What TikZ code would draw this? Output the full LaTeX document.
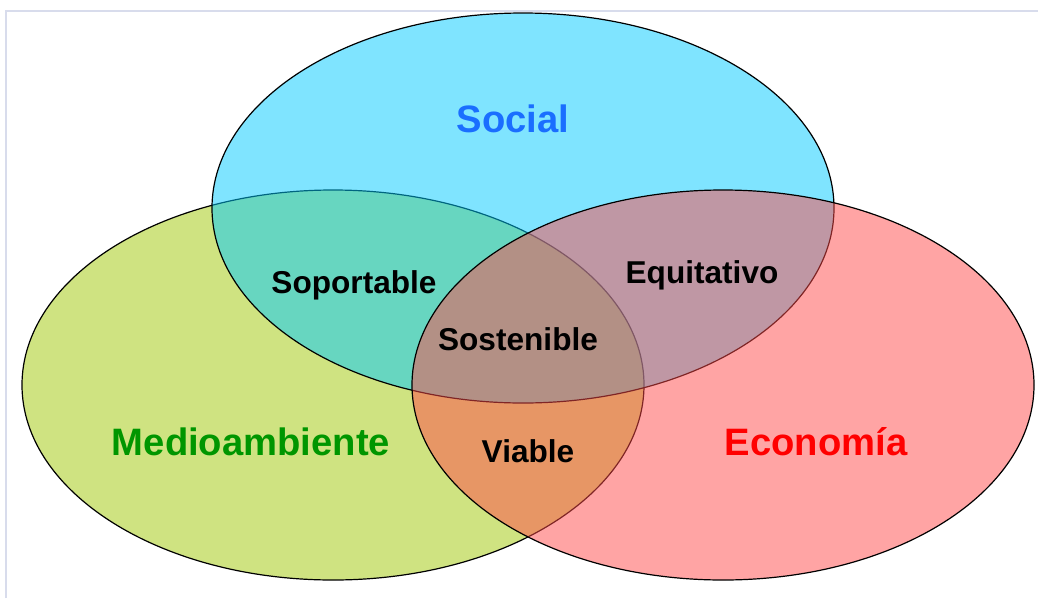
\documentclass[tikz,border=0pt]{standalone}
\usepackage{fontspec}
\setmainfont{Liberation Sans}
\usetikzlibrary{shapes.geometric}
\definecolor{socialc}{RGB}{1,203,255}
\definecolor{medioc}{RGB}{161,201,5}
\definecolor{ecoc}{RGB}{255,75,75}
\definecolor{framec}{RGB}{216,220,236}
\definecolor{socialtxt}{RGB}{26,110,255}
\definecolor{mediotxt}{RGB}{0,150,0}
\definecolor{ecotxt}{RGB}{255,0,0}
\tikzset{
  circ/.style={ellipse, draw=black, line width=1.2pt, fill opacity=0.5,
    inner sep=0pt, minimum width=622pt, minimum height=390pt},
  bigtxt/.style={anchor=base, font=\fontsize{38.2pt}{40pt}\selectfont\bfseries},
  smalltxt/.style={anchor=base, text=black, font=\fontsize{31.6pt}{34pt}\selectfont\bfseries},
}
\begin{document}
\begin{tikzpicture}[x=1pt,y=-1pt]
\useasboundingbox (0,0) rectangle (1038,598);
\fill[white] (0,0) rectangle (1038,598);
\draw[framec, line width=1.2pt] (6,598) -- (6,11) -- (1038,11);
\node[circ, fill=medioc] (medio) at (333,385) {};
\node[circ, fill=socialc] (social) at (523,208) {};
\node[circ, fill=ecoc] (eco) at (723,385) {};
\node[bigtxt, text=socialtxt] (tsocial) at (513,132) {Social};
\node[bigtxt, text=mediotxt] (tmedio) at (251,455) {Medioambiente};
\node[bigtxt, text=ecotxt] (teco) at (816,455) {Economía};
\node[smalltxt] (tsop) at (354,293) {Soportable};
\node[smalltxt] (tequi) at (702,283) {Equitativo};
\node[smalltxt] (tsost) at (518,350) {Sostenible};
\node[smalltxt] (tvia) at (528,462) {Viable};
\end{tikzpicture}
\end{document}
